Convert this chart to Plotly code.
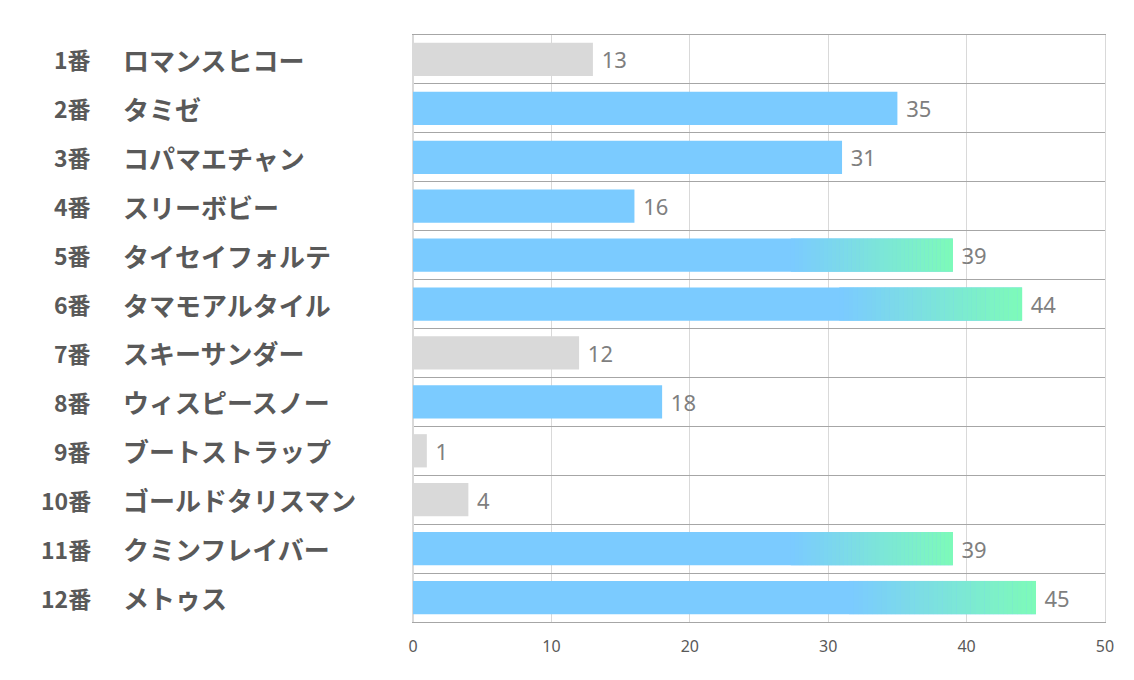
import plotly.graph_objects as go

numbers = ["1番", "2番", "3番", "4番", "5番", "6番", "7番", "8番", "9番", "10番", "11番", "12番"]
names = ["ロマンスヒコー", "タミゼ", "コパマエチャン", "スリーボビー", "タイセイフォルテ", "タマモアルタイル",
         "スキーサンダー", "ウィスピースノー", "ブートストラップ", "ゴールドタリスマン", "クミンフレイバー", "メトゥス"]
values = [13, 35, 31, 16, 39, 44, 12, 18, 1, 4, 39, 45]
groups = ["gray", "blue", "blue", "blue", "grad", "grad", "gray", "blue", "gray", "gray", "grad", "grad"]

GRAY = "#d9d9d9"
BLUE = (123, 203, 255)
GREEN = (125, 250, 185)

ypos = list(range(len(values)))
fig = go.Figure()

# base bars
fig.add_trace(go.Bar(
    x=values, y=ypos, orientation="h", width=0.68,
    marker=dict(color=[GRAY if g == "gray" else "rgb(%d,%d,%d)" % BLUE for g in groups], line=dict(width=0)),
    text=values, texttemplate=" %{text}", textposition="outside", cliponaxis=False,
    textfont=dict(family="Noto Sans, Open Sans, sans-serif", size=22, color="#7f7f7f"),
    hoverinfo="skip",
))

# gradient tail on the highlighted bars (last 30% of each bar)
grad_idx = [i for i, g in enumerate(groups) if g == "grad"]
N = 40
start = 0.7
for k in range(N):
    t = k / (N - 1)
    c = tuple(round(BLUE[j] + (GREEN[j] - BLUE[j]) * t) for j in range(3))
    fig.add_trace(go.Bar(
        x=[values[i] * (1 - start) / N * 1.05 for i in grad_idx],
        base=[values[i] * (start + (1 - start) * k / N) for i in grad_idx],
        y=[ypos[i] for i in grad_idx], orientation="h", width=0.68,
        marker=dict(color="rgb(%d,%d,%d)" % c, line=dict(width=0)),
        hoverinfo="skip",
    ))

# left labels: number column and horse name column
for i in ypos:
    fig.add_annotation(x=-0.462, y=i, xref="paper", yref="y", text="<b>%s</b>" % numbers[i],
                       xanchor="right", showarrow=False,
                       font=dict(family="Noto Sans CJK JP", size=23, color="#595959"))
    fig.add_annotation(x=-0.4215, y=i, xref="paper", yref="y", text="<b>%s</b>" % names[i],
                       xanchor="left", showarrow=False,
                       font=dict(family="Noto Sans CJK JP", size=26, color="#595959"))

# page body has an 8px margin, so the figure is sized/offset to compensate
fig.update_layout(
    width=1126, height=672,
    margin=dict(l=405, r=29, t=27, b=58),
    barmode="overlay",
    showlegend=False,
    plot_bgcolor="white", paper_bgcolor="white",
    xaxis=dict(range=[0, 50], dtick=10, showgrid=True, gridcolor="#d9d9d9", gridwidth=1,
               zeroline=True, zerolinecolor="#d9d9d9",
               showline=True, mirror=True, linecolor="#a6a6a6", linewidth=1,
               tickfont=dict(family="Noto Sans, sans-serif", size=16, color="#595959"),
               ticks="", ticklen=0, ticklabelstandoff=10),
    yaxis=dict(range=[len(values) - 0.5, -0.5], tickvals=[i - 0.5 for i in range(len(values) + 1)],
               showticklabels=False, showgrid=True, gridcolor="#a6a6a6", gridwidth=1,
               zeroline=False, showline=True, mirror=True, linecolor="#d9d9d9", ticks=""),
)

fig.write_html("out.html")
